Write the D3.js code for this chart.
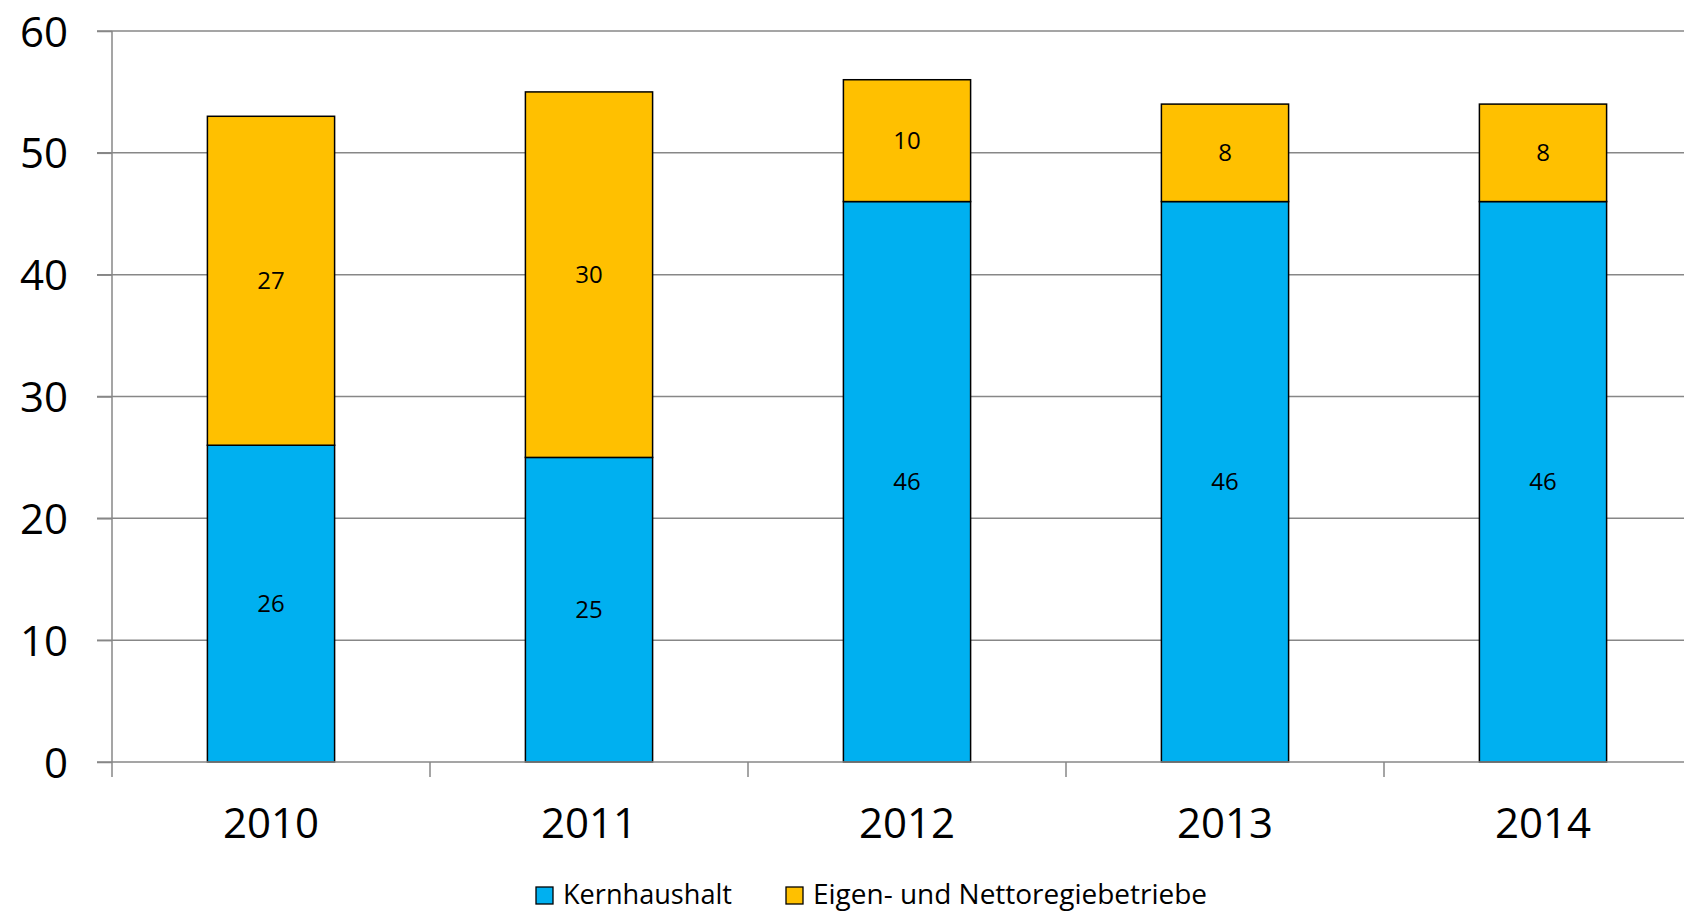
<!DOCTYPE html>
<html><head><meta charset="utf-8">
<script src="https://cdn.jsdelivr.net/npm/d3@7"></script>
<style>body{margin:0;background:#fff}svg{display:block}</style>
</head><body>
<svg id="c" width="1684" height="912"></svg>
<script>
const categories = ["2010","2011","2012","2013","2014"];
const kernhaushalt = [26,25,46,46,46];
const eigenbetriebe = [27,30,10,8,8];
const seriesNames = ["Kernhaushalt","Eigen- und Nettoregiebetriebe"];
const seriesColors = ["#00B0F0","#FFC000"];
const yTicks = [0,10,20,30,40,50,60];

const svg = d3.select("#c");
const font = "'Open Sans', sans-serif";
const x = d3.scaleBand().domain(categories).range([112, 1702]).padding(0);
const y = d3.scaleLinear().domain([0,60]).range([762, 31]);
const barW = x.bandwidth()*0.4;

// gridlines
svg.append("g").selectAll("line").data(yTicks.filter(d=>d>0)).join("line")
  .attr("x1",97).attr("x2",1684).attr("y1",d=>y(d)).attr("y2",d=>y(d))
  .attr("stroke","#878787").attr("stroke-width",1.5);

// y axis
const ya = svg.append("g").attr("transform","translate(112,0)")
  .call(d3.axisLeft(y).tickValues(yTicks).tickSize(15).tickPadding(30));
ya.select(".domain").attr("stroke","#878787").attr("stroke-width",1.5).attr("d","M0,"+y(60)+"V"+y(0));
ya.selectAll(".tick line").attr("stroke","#878787").attr("stroke-width",1.5);
ya.selectAll("text").attr("font-family",font).attr("font-size",42).attr("fill","#000")
  .attr("x",-44).attr("dy","0.36em");

// stacked data
const rows = categories.map((c,i)=>({cat:c, s:[kernhaushalt[i], eigenbetriebe[i]]}));
const stack = [];
rows.forEach(r=>{ let base=0; r.s.forEach((v,k)=>{ stack.push({cat:r.cat,k,y0:base,y1:base+v,v}); base+=v; }); });

svg.append("g").selectAll("rect").data(stack).join("rect")
  .attr("x",d=>x(d.cat)+x.bandwidth()/2-barW/2).attr("width",barW)
  .attr("y",d=>y(d.y1)).attr("height",d=>y(d.y0)-y(d.y1))
  .attr("fill",d=>seriesColors[d.k]).attr("stroke","#000").attr("stroke-width",1.5);

svg.append("g").selectAll("text").data(stack).join("text")
  .attr("x",d=>x(d.cat)+x.bandwidth()/2).attr("y",d=>y((d.y0+d.y1)/2))
  .attr("dy","0.36em").attr("text-anchor","middle")
  .attr("font-family",font).attr("font-size",24).attr("fill","#000")
  .text(d=>d.v);

// x axis
const xa = svg.append("g").attr("transform","translate(0,762)");
xa.append("line").attr("x1",97).attr("x2",1684).attr("y1",0).attr("y2",0)
  .attr("stroke","#878787").attr("stroke-width",1.5);
xa.selectAll("line.tk").data(categories).join("line").attr("class","tk")
  .attr("x1",d=>x(d)).attr("x2",d=>x(d)).attr("y1",0).attr("y2",15)
  .attr("stroke","#878787").attr("stroke-width",1.5);
xa.selectAll("text").data(categories).join("text")
  .attr("x",d=>x(d)+x.bandwidth()/2).attr("y",76).attr("text-anchor","middle")
  .attr("font-family",font).attr("font-size",42).attr("fill","#000").text(d=>d);

// legend
const legX = [536, 786], legW = [169, 394];
const lg = svg.append("g");
seriesNames.forEach((n,i)=>{
  lg.append("rect").attr("x",legX[i]).attr("y",887).attr("width",17).attr("height",17)
    .attr("fill",seriesColors[i]).attr("stroke","#000").attr("stroke-width",1.3);
  lg.append("text").attr("x",legX[i]+27).attr("y",904)
    .attr("font-family",font).attr("font-size",26.5).attr("fill","#000")
    .attr("textLength",legW[i]).attr("lengthAdjust","spacingAndGlyphs").text(n);
});
</script>
</body></html>
